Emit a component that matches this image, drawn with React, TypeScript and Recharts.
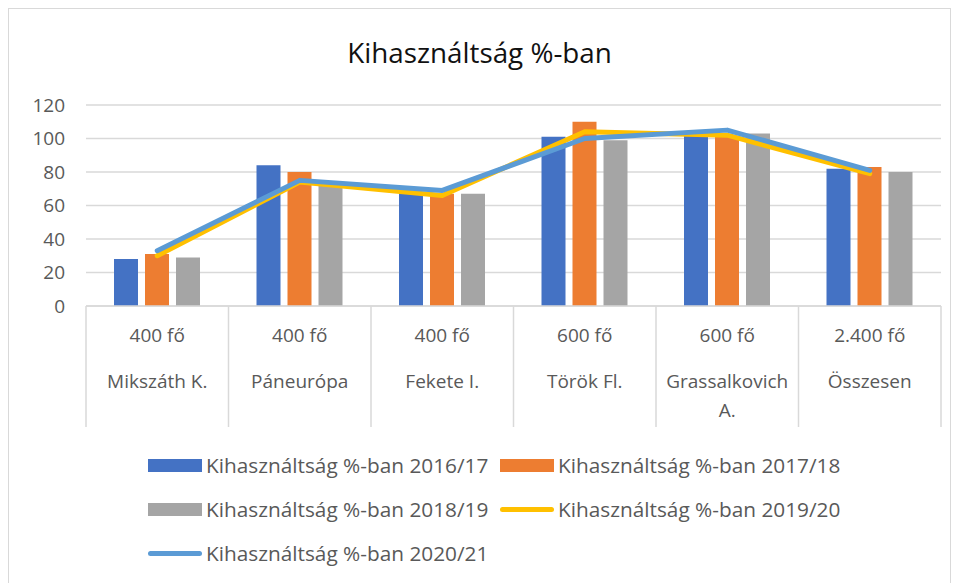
import React from "react";
import { ComposedChart, Bar, Line, XAxis, YAxis, CartesianGrid, Legend } from "recharts";

const places = ["Mikszáth K.", "Páneurópa", "Fekete I.", "Török Fl.", "Grassalkovich A.", "Összesen"];
const capacities = ["400 fő", "400 fő", "400 fő", "600 fő", "600 fő", "2.400 fő"];
const y2016 = [28, 84, 68, 101, 102, 82];
const y2017 = [31, 80, 67, 110, 101, 83];
const y2018 = [29, 73, 67, 99, 103, 80];
const y2019 = [30, 74, 66, 104, 102, 79];
const y2020 = [33, 75, 69, 100, 105, 81];
const yTicks = [0, 20, 40, 60, 80, 100, 120];

const seriesNames = [
  "Kihasználtság %-ban 2016/17",
  "Kihasználtság %-ban 2017/18",
  "Kihasználtság %-ban 2018/19",
  "Kihasználtság %-ban 2019/20",
  "Kihasználtság %-ban 2020/21",
];

const data = places.map((p, i) => ({
  place: p,
  cap: capacities[i],
  a: y2016[i],
  b: y2017[i],
  c: y2018[i],
  d: y2019[i],
  e: y2020[i],
}));

const FONT = "'Open Sans', 'Noto Sans', sans-serif";
const TXT = "#595959";
const GRID = "#d9d9d9";

const W = 941;
const H = 578;
const M = { top: 96, right: 9, bottom: 0, left: 36 };
const Y_W = 41;
const BAND = (W - M.left - M.right - Y_W) / places.length;

const legendItems = [
  { name: seriesNames[0], color: "#4472C4", kind: "bar" },
  { name: seriesNames[1], color: "#ED7D31", kind: "bar" },
  { name: seriesNames[2], color: "#A5A5A5", kind: "bar" },
  { name: seriesNames[3], color: "#FFC000", kind: "line" },
  { name: seriesNames[4], color: "#5B9BD5", kind: "line" },
];

function CatTick(props: any) {
  const { x, y, payload, index } = props;
  const d = data[index] || data.find((r) => r.place === payload.value);
  const words = String(payload.value);
  const lines = words === "Grassalkovich A." ? ["Grassalkovich", "A."] : [words];
  const half = BAND / 2;
  return (
    <g>
      <line x1={x - half} x2={x - half} y1={y} y2={y + 121} stroke={GRID} strokeWidth={1.5} />
      {index === places.length - 1 && (
        <line x1={x + half} x2={x + half} y1={y} y2={y + 121} stroke={GRID} strokeWidth={1.5} />
      )}
      <text x={x} y={y + 31} textAnchor="middle" dominantBaseline="middle" fill={TXT} fontSize={19} fontFamily={FONT}>
        {d ? d.cap : ""}
      </text>
      {lines.map((l, i) => (
        <text key={i} x={x} y={y + 77 + i * 29} textAnchor="middle" dominantBaseline="middle" fill={TXT} fontSize={19} fontFamily={FONT}>
          {l}
        </text>
      ))}
    </g>
  );
}

function LegendBox() {
  return (
    <div style={{ paddingTop: 16, paddingLeft: 139, display: "grid", gridTemplateColumns: "352px 352px", fontFamily: FONT }}>
      {legendItems.map((it) => (
        <div key={it.name} style={{ height: 44, display: "flex", alignItems: "center" }}>
          {it.kind === "bar" ? (
            <span style={{ width: 54, height: 13, background: it.color, marginRight: 4, display: "inline-block" }} />
          ) : (
            <span style={{ width: 54, height: 5, borderRadius: 3, background: it.color, marginRight: 4, display: "inline-block" }} />
          )}
          <span style={{ fontSize: 20.8, color: TXT, whiteSpace: "nowrap" }}>{it.name}</span>
        </div>
      ))}
    </div>
  );
}

export default function App() {
  return (
    <div style={{ position: "relative", width: W, height: H, border: "1px solid #d9d9d9", background: "#fff" }}>
      <div
        style={{
          position: "absolute",
          top: 29,
          left: 0,
          width: W,
          textAlign: "center",
          fontFamily: FONT,
          fontSize: 27.8,
          lineHeight: "28px",
          color: "#111",
        }}
      >
        Kihasználtság %-ban
      </div>
      <ComposedChart width={W} height={H} data={data} margin={M} barGap={7} barSize={24}>
        <CartesianGrid vertical={false} stroke={GRID} strokeWidth={1.5} />
        <XAxis
          dataKey="place"
          height={121}
          tickLine={false}
          tickSize={0}
          tickMargin={0}
          axisLine={{ stroke: GRID, strokeWidth: 1.5 }}
          tick={<CatTick />}
          interval={0}
        />
        <YAxis
          width={Y_W}
          domain={[0, 120]}
          ticks={yTicks}
          axisLine={false}
          tickLine={false}
          tickSize={0}
          tickMargin={21}
          tick={{ fill: TXT, fontSize: 19, fontFamily: FONT }}
        />
        <Legend verticalAlign="bottom" content={<LegendBox />} wrapperStyle={{ left: 0, width: W, height: 160 }} />
        <Bar dataKey="a" name={seriesNames[0]} fill="#4472C4" isAnimationActive={false} />
        <Bar dataKey="b" name={seriesNames[1]} fill="#ED7D31" isAnimationActive={false} />
        <Bar dataKey="c" name={seriesNames[2]} fill="#A5A5A5" isAnimationActive={false} />
        <Line dataKey="d" name={seriesNames[3]} stroke="#FFC000" strokeWidth={5} strokeLinecap="round" strokeLinejoin="round" dot={false} isAnimationActive={false} />
        <Line dataKey="e" name={seriesNames[4]} stroke="#5B9BD5" strokeWidth={5} strokeLinecap="round" strokeLinejoin="round" dot={false} isAnimationActive={false} />
      </ComposedChart>
    </div>
  );
}
